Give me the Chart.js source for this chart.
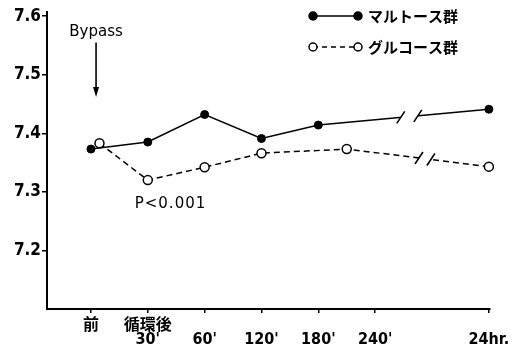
<!DOCTYPE html>
<html><head><meta charset="utf-8">
<script src="https://cdn.jsdelivr.net/npm/chart.js@4/dist/chart.umd.min.js"></script>
<style>html,body{margin:0;padding:0;background:#fff}#wrap{width:526px;height:349px;position:relative}</style>
</head><body><div id="wrap"><canvas id="c"></canvas></div>
<script>
// ---- data ----
const tickPositions = [0, 1, 2, 3, 4, 5, 7];
const tickLabels = [["前", ""], ["循環後", "30'"], ["", "60'"], ["", "120'"], ["", "180'"], ["", "240'"], ["", "24hr."]];
const yTicks = [7.2, 7.3, 7.4, 7.5, 7.6];
const seriesNames = ["マルトース群", "グルコース群"];
const maltoseX = [0, 1, 2, 3, 4, 7];
const maltoseY = [7.373, 7.385, 7.432, 7.391, 7.414, 7.441];
const glucoseX = [0.15, 1, 2, 3, 4.5, 7];
const glucoseY = [7.383, 7.320, 7.342, 7.366, 7.373, 7.343];
const maltoseBreak = [5.45, 5.75];
const glucoseBreak = [5.77, 5.98];
const bypassLabel = "Bypass";
const pLabel = "P<0.001";

const NARROW = '"Liberation Sans Narrow", "DejaVu Sans Condensed", "Noto Sans CJK JP", sans-serif';
const CJK = '"Noto Sans CJK JP", sans-serif';

function pts(xs, ys) { return xs.map((x, i) => ({ x: x, y: ys[i] })); }

function lineYAt(d, xv) {
  for (let i = 0; i < d.length - 1; i++) {
    if (xv >= d[i].x && xv <= d[i + 1].x) {
      const t = (xv - d[i].x) / (d[i + 1].x - d[i].x);
      return d[i].y + t * (d[i + 1].y - d[i].y);
    }
  }
  return d[d.length - 1].y;
}

const extras = {
  id: 'extras',
  afterDatasetsDraw(chart) {
    const ctx = chart.ctx, xs = chart.scales.x, ys = chart.scales.y;
    ctx.save();
    const breaks = [[chart.data.datasets[0].data, maltoseBreak], [chart.data.datasets[1].data, glucoseBreak]];
    breaks.forEach(([data, br]) => {
      const x1 = xs.getPixelForValue(br[0]), x2 = xs.getPixelForValue(br[1]);
      const y1 = ys.getPixelForValue(lineYAt(data, br[0])), y2 = ys.getPixelForValue(lineYAt(data, br[1]));
      ctx.fillStyle = '#fff';
      ctx.beginPath();
      ctx.moveTo(x1, y1 - 4); ctx.lineTo(x2, y2 - 4); ctx.lineTo(x2, y2 + 4); ctx.lineTo(x1, y1 + 4); ctx.closePath();
      ctx.fill();
      ctx.strokeStyle = '#000'; ctx.lineWidth = 1.6;
      [[x1, y1], [x2, y2]].forEach(([px, py]) => {
        ctx.beginPath(); ctx.moveTo(px - 4, py + 6); ctx.lineTo(px + 4, py - 6); ctx.stroke();
      });
    });
    const bx = xs.getPixelForValue(0.09);
    ctx.fillStyle = '#000';
    ctx.font = '15px "DejaVu Sans", sans-serif';
    ctx.textAlign = 'center'; ctx.textBaseline = 'middle';
    ctx.fillText(bypassLabel, bx, ys.getPixelForValue(7.573));
    const at = ys.getPixelForValue(7.555), ab = ys.getPixelForValue(7.462);
    ctx.lineWidth = 1.6; ctx.strokeStyle = '#000';
    ctx.beginPath(); ctx.moveTo(bx, at); ctx.lineTo(bx, ab - 4); ctx.stroke();
    ctx.beginPath(); ctx.moveTo(bx - 3, ab - 10); ctx.lineTo(bx + 3, ab - 10); ctx.lineTo(bx, ab); ctx.closePath(); ctx.fill();
    ctx.font = '15px "DejaVu Sans", sans-serif';
    ctx.textAlign = 'left';
    if ('letterSpacing' in ctx) ctx.letterSpacing = '1px';
    ctx.fillText(pLabel, xs.getPixelForValue(0.77), ys.getPixelForValue(7.279));
    if ('letterSpacing' in ctx) ctx.letterSpacing = '0px';
    const lx1 = 313, lx2 = 358, tx = 368, rows = [16, 47];
    ctx.font = 'bold 15px ' + CJK;
    ctx.textBaseline = 'middle';
    rows.forEach((ry, i) => {
      ctx.lineWidth = 1.5; ctx.strokeStyle = '#000';
      ctx.setLineDash(i === 0 ? [] : [5, 4]);
      ctx.beginPath(); ctx.moveTo(lx1, ry); ctx.lineTo(lx2, ry); ctx.stroke();
      ctx.setLineDash([]);
      [lx1, lx2].forEach(cx => {
        ctx.beginPath(); ctx.arc(cx, ry, 4, 0, Math.PI * 2);
        ctx.fillStyle = i === 0 ? '#000' : '#fff'; ctx.fill(); ctx.stroke();
      });
      ctx.fillStyle = '#000';
      ctx.fillText(seriesNames[i], tx, ry);
    });
    ctx.restore();
  }
};

new Chart(document.getElementById('c'), {
  type: 'line',
  data: {
    datasets: [
      { label: seriesNames[0], data: pts(maltoseX, maltoseY), borderColor: '#000', borderWidth: 1.5,
        pointRadius: 4, pointBackgroundColor: '#000', pointBorderColor: '#000', pointBorderWidth: 1, tension: 0, clip: false },
      { label: seriesNames[1], data: pts(glucoseX, glucoseY), borderColor: '#000', borderWidth: 1.5, borderDash: [6, 4],
        pointRadius: 4.5, pointBackgroundColor: '#fff', pointBorderColor: '#000', pointBorderWidth: 1.5, tension: 0, clip: false }
    ]
  },
  options: {
    responsive: true, maintainAspectRatio: false, animation: false,
    layout: { padding: { left: 0, right: 36, top: 12, bottom: 0 } },
    plugins: { legend: { display: false }, tooltip: { enabled: false } },
    scales: {
      x: {
        type: 'linear', min: -0.773, max: 7.02,
        afterFit(s) { s.height = 40; },
        afterBuildTicks(s) { s.ticks = tickPositions.map(v => ({ value: v })); },
        border: { display: true, color: '#000', width: 2 },
        grid: { display: true, drawOnChartArea: false, drawTicks: true, tickLength: 4, color: '#000', lineWidth: 1.5 },
        ticks: {
          autoSkip: false, maxRotation: 0, color: '#000', padding: 6,
          font: { family: NARROW, size: 16, weight: 'bold', lineHeight: '14px' },
          callback: (v, i) => tickLabels[i]
        }
      },
      y: {
        min: 7.1, max: 7.607,
        afterFit(s) { s.width = 47; },
        afterBuildTicks(s) { s.ticks = yTicks.map(v => ({ value: v })); },
        border: { display: true, color: '#000', width: 2 },
        grid: { display: true, drawOnChartArea: false, drawTicks: true, tickLength: 5, color: '#000', lineWidth: 1.5 },
        ticks: {
          color: '#000', padding: 1,
          font: { family: NARROW, size: 17, weight: 'bold' },
          callback: v => v.toFixed(1)
        }
      }
    }
  },
  plugins: [extras]
});
</script>
</body></html>
